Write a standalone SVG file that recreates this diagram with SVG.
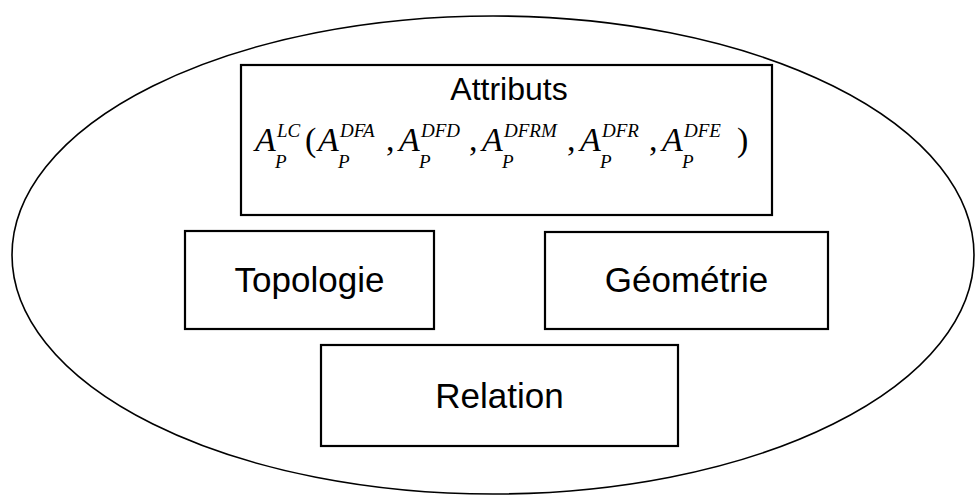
<svg xmlns="http://www.w3.org/2000/svg" width="975" height="498" viewBox="0 0 975 498">
<style>
.box{fill:#fff;stroke:#000;stroke-width:2.2}
.lbl{font-family:"Liberation Sans",Arial,sans-serif;font-size:35px;fill:#000;text-anchor:middle}
.m{font-family:"Liberation Serif","Times New Roman",serif;font-style:italic;font-size:34px;fill:#000}
.s{font-family:"Liberation Serif","Times New Roman",serif;font-style:italic;font-size:19px;fill:#000}
.u{font-family:"Liberation Serif","Times New Roman",serif;font-size:34px;fill:#000}
</style>
<rect width="975" height="498" fill="#fff"/>
<ellipse id="container" cx="493" cy="255" rx="481" ry="239" fill="none" stroke="#000" stroke-width="1.6"/>
<g id="attributs">
<rect class="box" x="241" y="65" width="531" height="150"/>
<text class="lbl" x="509" y="100" style="font-size:32px">Attributs</text>
<g id="formula">
<text class="m" x="255" y="151">A</text><text class="s" x="277" y="137">LC</text><text class="s" x="275" y="168">P</text>
<text class="u" x="305" y="151">(</text>
<text class="m" x="318" y="151">A</text><text class="s" x="340" y="137">DFA</text><text class="s" x="338" y="168">P</text>
<text class="u" x="386" y="151">,</text>
<text class="m" x="399" y="151">A</text><text class="s" x="421" y="137">DFD</text><text class="s" x="419" y="168">P</text>
<text class="u" x="469" y="151">,</text>
<text class="m" x="482" y="151">A</text><text class="s" x="504" y="137">DFRM</text><text class="s" x="502" y="168">P</text>
<text class="u" x="567" y="151">,</text>
<text class="m" x="580" y="151">A</text><text class="s" x="602" y="137">DFR</text><text class="s" x="600" y="168">P</text>
<text class="u" x="649" y="151">,</text>
<text class="m" x="662" y="151">A</text><text class="s" x="684" y="137">DFE</text><text class="s" x="682" y="168">P</text>
<text class="u" x="737" y="151">)</text>
</g>
</g>
<g id="topologie">
<rect class="box" x="185" y="231" width="249" height="98"/>
<text class="lbl" x="309.5" y="292">Topologie</text>
</g>
<g id="geometrie">
<rect class="box" x="545" y="232" width="283" height="97"/>
<text class="lbl" x="686.5" y="292">Géométrie</text>
</g>
<g id="relation">
<rect class="box" x="321" y="345" width="357" height="101"/>
<text class="lbl" x="499.5" y="408">Relation</text>
</g>
<g id="connectors"/>
</svg>
